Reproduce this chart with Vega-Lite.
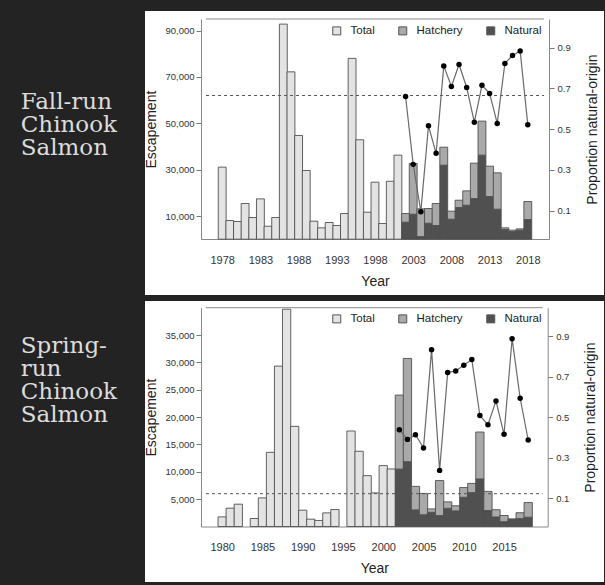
{
 "$schema": "https://vega.github.io/schema/vega-lite/v6.json",
 "background": "#232323",
 "padding": {"left": 20, "top": 11, "right": 2, "bottom": 3},
 "spacing": 6,
 "datasets": {
  "fallBars": [
   {"year":1978,"type":"Total","value":31100},{"year":1979,"type":"Total","value":8060},{"year":1980,"type":"Total","value":7630},
   {"year":1981,"type":"Total","value":15400},{"year":1982,"type":"Total","value":9350},{"year":1983,"type":"Total","value":17400},
   {"year":1984,"type":"Total","value":5600},{"year":1985,"type":"Total","value":9350},{"year":1986,"type":"Total","value":92800},
   {"year":1987,"type":"Total","value":72200},{"year":1988,"type":"Total","value":44750},{"year":1989,"type":"Total","value":29640},
   {"year":1990,"type":"Total","value":7770},{"year":1991,"type":"Total","value":4900},{"year":1992,"type":"Total","value":7200},
   {"year":1993,"type":"Total","value":5900},{"year":1994,"type":"Total","value":11080},{"year":1995,"type":"Total","value":78000},
   {"year":1996,"type":"Total","value":42900},{"year":1997,"type":"Total","value":11650},{"year":1998,"type":"Total","value":24600},
   {"year":1999,"type":"Total","value":6760},{"year":2000,"type":"Total","value":25000},{"year":2001,"type":"Total","value":36260},
   {"year":2002,"type":"Natural","value":7340},{"year":2002,"type":"Hatchery","value":3740},
   {"year":2003,"type":"Natural","value":10790},{"year":2003,"type":"Hatchery","value":21870},
   {"year":2004,"type":"Natural","value":1150},{"year":2004,"type":"Hatchery","value":11950},
   {"year":2005,"type":"Natural","value":6900},{"year":2005,"type":"Hatchery","value":6340},
   {"year":2006,"type":"Natural","value":5900},{"year":2006,"type":"Hatchery","value":9500},
   {"year":2007,"type":"Natural","value":31940},{"year":2007,"type":"Hatchery","value":7760},
   {"year":2008,"type":"Natural","value":8630},{"year":2008,"type":"Hatchery","value":3460},
   {"year":2009,"type":"Natural","value":13670},{"year":2009,"type":"Hatchery","value":3160},
   {"year":2010,"type":"Natural","value":14680},{"year":2010,"type":"Hatchery","value":6180},
   {"year":2011,"type":"Natural","value":17550},{"year":2011,"type":"Hatchery","value":15250},
   {"year":2012,"type":"Natural","value":36260},{"year":2012,"type":"Hatchery","value":14680},
   {"year":2013,"type":"Natural","value":18420},{"year":2013,"type":"Hatchery","value":13080},
   {"year":2014,"type":"Natural","value":12950},{"year":2014,"type":"Hatchery","value":15680},
   {"year":2015,"type":"Natural","value":4170},{"year":2015,"type":"Hatchery","value":730},
   {"year":2016,"type":"Natural","value":3300},{"year":2016,"type":"Hatchery","value":600},
   {"year":2017,"type":"Natural","value":3900},{"year":2017,"type":"Hatchery","value":560},
   {"year":2018,"type":"Natural","value":8490},{"year":2018,"type":"Hatchery","value":7770}
  ],
  "fallProp": [
   {"year":2002,"prop":0.66},{"year":2003,"prop":0.327},{"year":2004,"prop":0.095},{"year":2005,"prop":0.516},
   {"year":2006,"prop":0.381},{"year":2007,"prop":0.81},{"year":2008,"prop":0.709},{"year":2009,"prop":0.817},
   {"year":2010,"prop":0.704},{"year":2011,"prop":0.534},{"year":2012,"prop":0.715},{"year":2013,"prop":0.675},
   {"year":2014,"prop":0.528},{"year":2015,"prop":0.822},{"year":2016,"prop":0.861},{"year":2017,"prop":0.883},
   {"year":2018,"prop":0.521}
  ],
  "springBars": [
   {"year":1980,"type":"Total","value":1760},{"year":1981,"type":"Total","value":3350},{"year":1982,"type":"Total","value":4080},
   {"year":1984,"type":"Total","value":1460},{"year":1985,"type":"Total","value":5230},{"year":1986,"type":"Total","value":13560},
   {"year":1987,"type":"Total","value":29320},{"year":1988,"type":"Total","value":39720},{"year":1989,"type":"Total","value":18310},
   {"year":1990,"type":"Total","value":2980},{"year":1991,"type":"Total","value":1340},{"year":1992,"type":"Total","value":1100},
   {"year":1993,"type":"Total","value":2490},{"year":1994,"type":"Total","value":3100},{"year":1996,"type":"Total","value":17460},
   {"year":1997,"type":"Total","value":13750},{"year":1998,"type":"Total","value":9300},{"year":1999,"type":"Total","value":6140},
   {"year":2000,"type":"Total","value":11130},{"year":2001,"type":"Total","value":10520},
   {"year":2002,"type":"Natural","value":10500},{"year":2002,"type":"Hatchery","value":13530},
   {"year":2003,"type":"Natural","value":11860},{"year":2003,"type":"Hatchery","value":18860},
   {"year":2004,"type":"Natural","value":3040},{"year":2004,"type":"Hatchery","value":4300},
   {"year":2005,"type":"Natural","value":2150},{"year":2005,"type":"Hatchery","value":3900},
   {"year":2006,"type":"Natural","value":2600},{"year":2006,"type":"Hatchery","value":620},
   {"year":2007,"type":"Natural","value":2000},{"year":2007,"type":"Hatchery","value":6400},
   {"year":2008,"type":"Natural","value":3320},{"year":2008,"type":"Hatchery","value":1180},
   {"year":2009,"type":"Natural","value":2860},{"year":2009,"type":"Hatchery","value":930},
   {"year":2010,"type":"Natural","value":5350},{"year":2010,"type":"Hatchery","value":1770},
   {"year":2011,"type":"Natural","value":6200},{"year":2011,"type":"Hatchery","value":1680},
   {"year":2012,"type":"Natural","value":8700},{"year":2012,"type":"Hatchery","value":8570},
   {"year":2013,"type":"Natural","value":2920},{"year":2013,"type":"Hatchery","value":3500},
   {"year":2014,"type":"Natural","value":1750},{"year":2014,"type":"Hatchery","value":1320},
   {"year":2015,"type":"Natural","value":880},{"year":2015,"type":"Hatchery","value":1130},
   {"year":2016,"type":"Natural","value":1280},{"year":2016,"type":"Hatchery","value":120},
   {"year":2017,"type":"Natural","value":1450},{"year":2017,"type":"Hatchery","value":1070},
   {"year":2018,"type":"Natural","value":1700},{"year":2018,"type":"Hatchery","value":2680}
  ],
  "springProp": [
   {"year":2002,"prop":0.438},{"year":2003,"prop":0.39},{"year":2004,"prop":0.413},{"year":2005,"prop":0.348},
   {"year":2006,"prop":0.833},{"year":2007,"prop":0.237},{"year":2008,"prop":0.72},{"year":2009,"prop":0.728},
   {"year":2010,"prop":0.756},{"year":2011,"prop":0.784},{"year":2012,"prop":0.508},{"year":2013,"prop":0.462},
   {"year":2014,"prop":0.58},{"year":2015,"prop":0.415},{"year":2016,"prop":0.887},{"year":2017,"prop":0.593},
   {"year":2018,"prop":0.387}
  ],
  "fallTarget": [{"target": 62000}],
  "springTarget": [{"target": 6000}]
 },
 "vconcat": [
  {
   "width": 459, "height": 284,
   "view": {"fill": "white", "stroke": null},
   "title": {"text": ["Fall-run", "Chinook", "Salmon"], "orient": "left", "angle": 0, "align": "left", "baseline": "middle", "anchor": "middle", "offset": 28, "dy": -51, "font": "DejaVu Serif", "fontSize": 23, "fontWeight": "normal", "color": "#dcdcdc", "lineHeight": 23.2},
   "layer": [
    {"layer": [
     {
      "data": {"name": "fallBars"},
      "mark": {"type": "bar", "size": 7.87, "stroke": "#505050", "strokeWidth": 0.9},
      "encoding": {
       "x": {"field": "year", "type": "quantitative",
             "scale": {"domain": [1975.88, 2020.12], "range": [56, 404], "nice": false, "zero": false},
             "axis": {"orient": "bottom", "offset": -56, "values": [1978,1983,1988,1993,1998,2003,2008,2013,2018], "format": "d", "ticks": false, "labelPadding": 15, "labelFontSize": 11, "labelFlush": false, "title": "Year", "titleFontSize": 14, "titlePadding": 9}},
       "y": {"field": "value", "type": "quantitative", "stack": "zero",
             "scale": {"domain": [0, 95000], "range": [228.2, 8], "nice": false},
             "axis": {"orient": "left", "offset": -56, "values": [10000,20000,30000,40000,50000,60000,70000,80000,90000], "format": ",d", "tickSize": 5, "labelPadding": 2, "labelFontSize": 9.5, "title": "Escapement", "titleFontSize": 14, "titlePadding": 6}},
       "fill": {"field": "type", "type": "nominal",
                "scale": {"domain": ["Total", "Hatchery", "Natural"], "range": ["#e3e3e3", "#a9a9a9", "#505050"]},
                "legend": {"orient": "none", "legendX": 186, "legendY": 14, "direction": "horizontal", "title": null, "symbolType": "square", "symbolSize": 64, "symbolStrokeColor": "#555", "symbolStrokeWidth": 1, "labelFontSize": 11.5, "labelColor": "#222", "labelOffset": 8, "columnPadding": 21}},
       "order": {"field": "type", "sort": "descending"}
      }
     },
     {
      "data": {"name": "fallTarget"},
      "mark": {"type": "rule", "strokeDash": [3, 3], "color": "#555", "strokeWidth": 1},
      "encoding": {"y": {"field": "target", "type": "quantitative"}, "x": {"datum": 1975.88}, "x2": {"datum": 2020.12}}
     },
     {
      "data": {"values": [{}]},
      "mark": {"type": "rule", "color": "#888", "strokeWidth": 1},
      "encoding": {"y": {"datum": 95000}, "x": {"datum": 1975.88}, "x2": {"datum": 2020.12}}
     }
    ]},
    {"layer": [
     {
      "data": {"name": "fallProp"},
      "mark": {"type": "line", "color": "#6a6a6a", "strokeWidth": 1.2},
      "encoding": {
       "x": {"field": "year", "type": "quantitative"},
       "y": {"field": "prop", "type": "quantitative",
             "scale": {"domain": [-0.04, 1.04], "range": [228.2, 8], "nice": false, "zero": false},
             "axis": {"orient": "right", "offset": -55, "values": [0.1, 0.3, 0.5, 0.7, 0.9], "format": ".1f", "tickSize": 5, "labelPadding": 3, "labelFontSize": 9.5, "title": "Proportion natural-origin", "titleFontSize": 14, "titleAngle": 270, "titlePadding": 29}}
      }
     },
     {
      "data": {"name": "fallProp"},
      "mark": {"type": "point", "filled": true, "color": "#000", "size": 30, "opacity": 1},
      "encoding": {"x": {"field": "year", "type": "quantitative"}, "y": {"field": "prop", "type": "quantitative"}}
     }
    ]}
   ],
   "resolve": {"scale": {"y": "independent"}}
  },
  {
   "width": 459, "height": 281,
   "view": {"fill": "white", "stroke": null},
   "title": {"text": ["Spring-", "run", "Chinook", "Salmon"], "orient": "left", "angle": 0, "align": "left", "baseline": "middle", "anchor": "middle", "offset": 28, "dy": -96, "font": "DejaVu Serif", "fontSize": 23, "fontWeight": "normal", "color": "#dcdcdc", "lineHeight": 23.2},
   "layer": [
    {"layer": [
     {
      "data": {"name": "springBars"},
      "mark": {"type": "bar", "size": 8.28, "stroke": "#505050", "strokeWidth": 0.9},
      "encoding": {
       "x": {"field": "year", "type": "quantitative",
             "scale": {"domain": [1977.99, 2019.8], "range": [56, 402.7], "nice": false, "zero": false},
             "axis": {"orient": "bottom", "offset": -55.5, "values": [1980,1985,1990,1995,2000,2005,2010,2015], "format": "d", "ticks": false, "labelPadding": 15, "labelFontSize": 11, "labelFlush": false, "title": "Year", "titleFontSize": 14, "titlePadding": 9}},
       "y": {"field": "value", "type": "quantitative", "stack": "zero",
             "scale": {"domain": [0, 40000], "range": [225.5, 6.7], "nice": false},
             "axis": {"orient": "left", "offset": -56, "values": [5000,10000,15000,20000,25000,30000,35000], "format": ",d", "tickSize": 5, "labelPadding": 2, "labelFontSize": 9.5, "title": "Escapement", "titleFontSize": 14, "titlePadding": 6}},
       "fill": {"field": "type", "type": "nominal",
                "scale": {"domain": ["Total", "Hatchery", "Natural"], "range": ["#e3e3e3", "#a9a9a9", "#505050"]},
                "legend": {"orient": "none", "legendX": 186, "legendY": 12, "direction": "horizontal", "title": null, "symbolType": "square", "symbolSize": 64, "symbolStrokeColor": "#555", "symbolStrokeWidth": 1, "labelFontSize": 11.5, "labelColor": "#222", "labelOffset": 8, "columnPadding": 21}},
       "order": {"field": "type", "sort": "descending"}
      }
     },
     {
      "data": {"name": "springTarget"},
      "mark": {"type": "rule", "strokeDash": [3, 3], "color": "#555", "strokeWidth": 1},
      "encoding": {"y": {"field": "target", "type": "quantitative"}, "x": {"datum": 1977.99}, "x2": {"datum": 2019.8}}
     },
     {
      "data": {"values": [{}]},
      "mark": {"type": "rule", "color": "#888", "strokeWidth": 1},
      "encoding": {"y": {"datum": 40000}, "x": {"datum": 1977.99}, "x2": {"datum": 2019.8}}
     }
    ]},
    {"layer": [
     {
      "data": {"name": "springProp"},
      "mark": {"type": "line", "color": "#6a6a6a", "strokeWidth": 1.2},
      "encoding": {
       "x": {"field": "year", "type": "quantitative"},
       "y": {"field": "prop", "type": "quantitative",
             "scale": {"domain": [-0.04, 1.04], "range": [225.5, 6.7], "nice": false, "zero": false},
             "axis": {"orient": "right", "offset": -56.3, "values": [0.1, 0.3, 0.5, 0.7, 0.9], "format": ".1f", "tickSize": 5, "labelPadding": 3, "labelFontSize": 9.5, "title": "Proportion natural-origin", "titleFontSize": 14, "titleAngle": 270, "titlePadding": 29}}
      }
     },
     {
      "data": {"name": "springProp"},
      "mark": {"type": "point", "filled": true, "color": "#000", "size": 30, "opacity": 1},
      "encoding": {"x": {"field": "year", "type": "quantitative"}, "y": {"field": "prop", "type": "quantitative"}}
     }
    ]}
   ],
   "resolve": {"scale": {"y": "independent"}}
  }
 ],
 "resolve": {"scale": {"x": "independent", "y": "independent", "fill": "independent"}, "legend": {"fill": "independent"}},
 "config": {
  "font": "Liberation Sans",
  "view": {"stroke": null},
  "axis": {"labelFont": "Liberation Sans", "titleFont": "Liberation Sans", "labelColor": "#333", "titleColor": "#222", "domainColor": "#888", "tickColor": "#777", "grid": false, "titleFontWeight": "normal"},
  "legend": {"labelFont": "Liberation Sans"}
 }
}
